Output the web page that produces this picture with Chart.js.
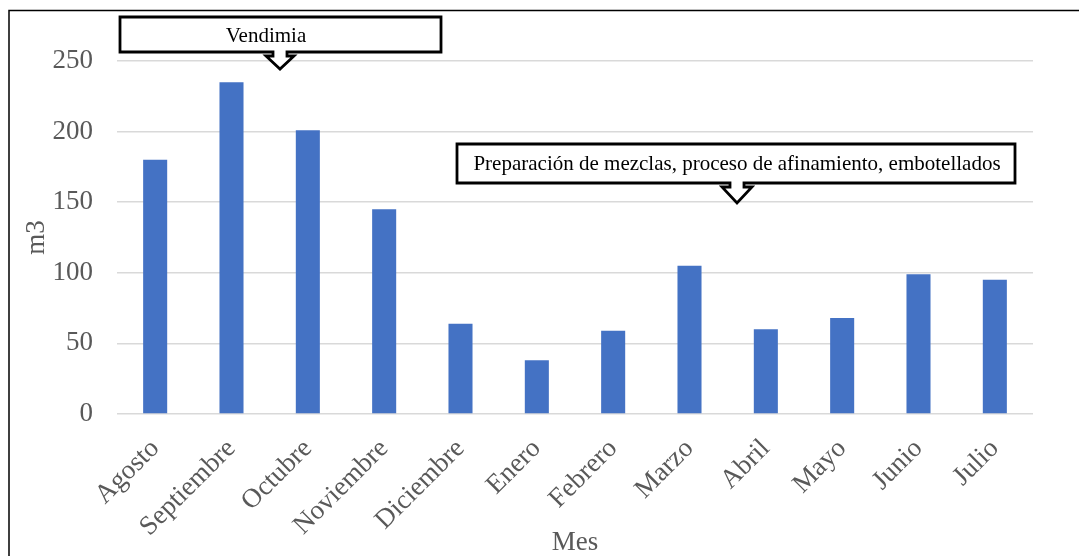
<!DOCTYPE html>
<html>
<head>
<meta charset="utf-8">
<script src="https://cdn.jsdelivr.net/npm/chart.js@4"></script>
<style>
  html, body { margin: 0; padding: 0; background: #ffffff; }
  #wrap { width: 1079px; height: 556px; position: relative; }
</style>
</head>
<body>
<div id="wrap"><canvas id="c" width="1079" height="556"></canvas></div>
<script>
// Monthly volume (m3) over the wine year
const meses = ['Agosto', 'Septiembre', 'Octubre', 'Noviembre', 'Diciembre', 'Enero',
               'Febrero', 'Marzo', 'Abril', 'Mayo', 'Junio', 'Julio'];
const volumen = [180, 235, 201, 145, 64, 38, 59, 105, 60, 68, 99, 95];
const yTicks = [0, 50, 100, 150, 200, 250];

// Callout notes drawn over the plot
const notas = [
  { text: 'Vendimia', box: [120, 17, 321, 35], textX: 266, textY: 36,
    arrow: { cx: 280, stem: 7, head: 14, stemBottom: 56, tip: 69 } },
  { text: 'Preparación de mezclas, proceso de afinamiento, embotellados',
    box: [457, 144, 558, 39], textX: 737, textY: 164,
    arrow: { cx: 737, stem: 7, head: 15, stemBottom: 187, tip: 203 } }
];

const SERIF = '"Liberation Serif", "Times New Roman", serif';

const calloutPlugin = {
  id: 'callouts',
  afterDraw(chart) {
    const ctx = chart.ctx;
    ctx.save();
    // outer frame
    ctx.strokeStyle = '#000000';
    ctx.lineWidth = 1.5;
    ctx.beginPath();
    ctx.moveTo(9, 560);
    ctx.lineTo(9, 10.5);
    ctx.lineTo(1085, 10.5);
    ctx.stroke();

    notas.forEach(n => {
      const [x, y, w, h] = n.box;
      const a = n.arrow;
      const b = y + h;
      ctx.beginPath();
      ctx.moveTo(x, y);
      ctx.lineTo(x + w, y);
      ctx.lineTo(x + w, b);
      ctx.lineTo(a.cx + a.stem, b);
      ctx.lineTo(a.cx + a.stem, a.stemBottom);
      ctx.lineTo(a.cx + a.head, a.stemBottom);
      ctx.lineTo(a.cx, a.tip);
      ctx.lineTo(a.cx - a.head, a.stemBottom);
      ctx.lineTo(a.cx - a.stem, a.stemBottom);
      ctx.lineTo(a.cx - a.stem, b);
      ctx.lineTo(x, b);
      ctx.closePath();
      ctx.fillStyle = '#ffffff';
      ctx.fill();
      ctx.lineWidth = 2.8;
      ctx.lineJoin = 'miter';
      ctx.strokeStyle = '#000000';
      ctx.stroke();

      ctx.fillStyle = '#000000';
      ctx.font = '21px ' + SERIF;
      ctx.textAlign = 'center';
      ctx.textBaseline = 'middle';
      ctx.fillText(n.text, n.textX, n.textY);
    });
    ctx.restore();
  }
};

new Chart(document.getElementById('c'), {
  type: 'bar',
  data: {
    labels: meses,
    datasets: [{
      data: volumen,
      backgroundColor: '#4472C4',
      borderWidth: 0,
      categoryPercentage: 1,
      barPercentage: 0.315
    }]
  },
  options: {
    responsive: false,
    animation: false,
    devicePixelRatio: 1,
    layout: { padding: { left: 0, right: 46, top: 61, bottom: 0 } },
    plugins: { legend: { display: false }, tooltip: { enabled: false } },
    scales: {
      x: {
        grid: { display: false, drawTicks: false },
        border: { display: false },
        ticks: {
          color: '#595959',
          font: { family: SERIF, size: 27 },
          maxRotation: 45, minRotation: 45,
          padding: 19,
          autoSkip: false
        },
        title: {
          display: true, text: 'Mes', color: '#595959',
          font: { family: SERIF, size: 27, lineHeight: 1.0 },
          padding: { top: 0, bottom: 0 }
        },
        afterFit(scale) { scale.height = 142; }
      },
      y: {
        min: 0, max: 250,
        afterBuildTicks(scale) { scale.ticks = yTicks.map(v => ({ value: v })); },
        grid: { color: '#D9D9D9', lineWidth: 1.5, drawTicks: false },
        border: { display: false },
        ticks: {
          color: '#595959',
          font: { family: SERIF, size: 27 },
          padding: 24
        },
        title: {
          display: true, text: 'm3', color: '#595959',
          font: { family: SERIF, size: 27 },
          padding: { top: 21, bottom: 0 }
        },
        afterFit(scale) { scale.width = 117; }
      }
    }
  },
  plugins: [calloutPlugin]
});
</script>
</body>
</html>
